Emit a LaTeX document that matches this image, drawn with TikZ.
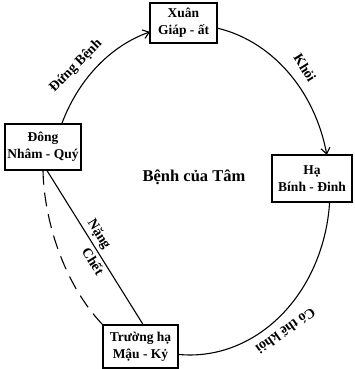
\documentclass[tikz,border=0pt]{standalone}
\usepackage{fontspec}
\setmainfont{Liberation Serif}
\usetikzlibrary{calc,arrows.meta}
\begin{document}
\begin{tikzpicture}[x=1pt,y=1pt,
  box/.style={draw,line width=1.2pt,fill=white,align=center,inner sep=1pt,
    font=\bfseries\fontsize{13.5}{17}\selectfont},
  lbl/.style={font=\bfseries\fontsize{14}{16}\selectfont,inner sep=1pt},
  conn/.style={line width=1.1pt},
  tip/.style={-{Straight Barb[length=6pt,width=9pt,line width=1.1pt]}}]
\useasboundingbox (0,0) rectangle (355,369);
\coordinate (c) at (190,179);
% ring arcs
\draw[conn,tip] (c) ++(157:140pt and 165pt) arc[start angle=157,end angle=106.6,x radius=140pt,y radius=165pt];
\draw[conn,tip] (c) ++(80:140pt and 165pt) arc[start angle=80,end angle=12.3,x radius=140pt,y radius=165pt];
\draw[conn] (c) ++(-3:140pt and 165pt) arc[start angle=-3,end angle=-96,x radius=140pt,y radius=165pt];
% boxes
\node[box,minimum width=67pt,minimum height=40pt] (xuan) at (183.5,346) {Xuân\\Giáp - ất};
\node[box,minimum width=80pt,minimum height=47pt] (ha) at (312,190.5) {Hạ\\Bính - Đinh};
\node[box,minimum width=76pt,minimum height=46pt] (dong) at (43,222) {Đông\\Nhâm - Quý};
\node[box,minimum width=75pt,minimum height=43pt] (truong) at (140.5,22.5) {Trường hạ\\Mậu - Kỷ};
% inner connectors
\coordinate (d1) at ($(dong.south)+(4,0)$);
\coordinate (d2) at ($(dong.south)+(0,0)$);
\coordinate (t1) at ($(truong.north)+(2.5,0)$);
\coordinate (t2) at (truong.north west);
\draw[conn] (d1) -- (t1)
  node[lbl,inner sep=3pt,pos=.45,sloped,above] (nang) {Nặng}
  node[lbl,inner sep=3pt,pos=.56,sloped,below] (chet) {Chết};
\draw[conn,dash pattern=on 14pt off 8pt] (d2) .. controls ($(d2)+(1,-49)$) and ($(t2)+(-39,41)$) .. (t2);
% labels
\node[lbl,rotate=45] (ldb) at (76,303) {Đứng Bệnh};
\node[lbl,rotate=-58] (lk) at (305,301) {Khỏi};
\node[lbl,rotate=-145] (lct) at (286,38) {Có thể khỏi};
\node[font=\bfseries\fontsize{16.5}{20}\selectfont] (tam) at (194,192) {Bệnh của Tâm};
\end{tikzpicture}
\end{document}
